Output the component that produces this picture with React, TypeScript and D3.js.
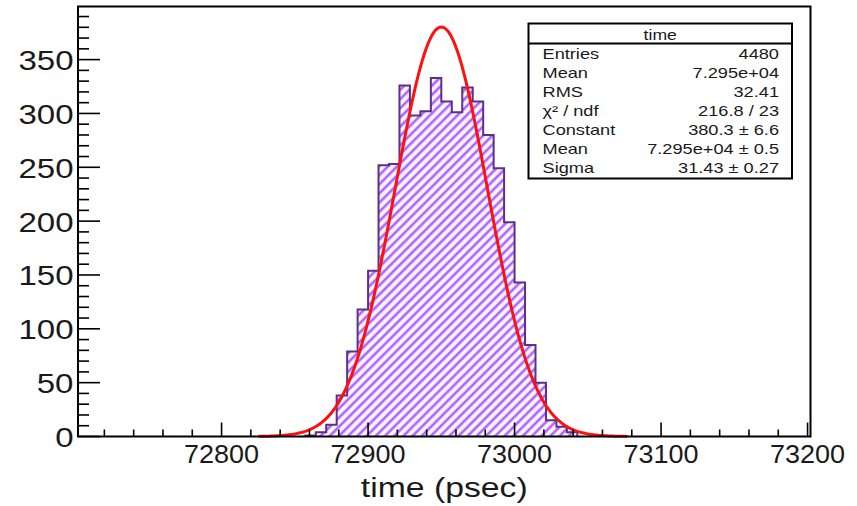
import React from "react";
import * as d3 from "d3";

// ---------- data ----------
const histLow = 72700;
const histHigh = 73200;
const histBins = 70;
const firstFilledBin = 22;
const binCounts = [1, 4, 11, 38, 79, 118, 154, 252, 253, 326, 298, 302, 333, 311, 301, 324, 311, 280, 249, 199, 143, 85, 50, 15, 9, 4];

const fitConstant = 380.3;
const fitMean = 72950;
const fitSigma = 31.43;
const fitRange = [72825, 73077];

const xMajorTicks = [72800, 72900, 73000, 73100, 73200];
const yMajorTicks = [0, 50, 100, 150, 200, 250, 300, 350];

const statsTitle = "time";
const statLabels = ["Entries", "Mean", "RMS", "χ² / ndf", "Constant", "Mean", "Sigma"];
const statValues = ["4480", "7.295e+04", "32.41", "216.8 / 23", "380.3 ± 6.6", "7.295e+04 ± 0.5", "31.43 ± 0.27"];

const xTitle = "time (psec)";

// ---------- layout ----------
const W = 857, H = 506;
const fx0 = 78, fx1 = 810.5, fy0 = 6.5, fy1 = 436.5;
const FONT = "'Liberation Sans', Arial, Helvetica, sans-serif";

function SText({ x, y, sx, size, anchor, children }: any) {
  return (
    <text
      transform={`translate(${x},${y}) scale(${sx},1)`}
      fontSize={size}
      textAnchor={anchor}
      fontFamily={FONT}
      fill="#1a1a1a"
    >
      {children}
    </text>
  );
}

export default function App() {
  const x = d3.scaleLinear().domain([72702, 73202]).range([fx0, fx1]);
  const y = d3.scaleLinear().domain([0, fitConstant * 1.05]).range([fy1, fy0]);
  const bw = (histHigh - histLow) / histBins;

  const bins = binCounts.map((c, i) => {
    const lo = histLow + (firstFilledBin + i) * bw;
    return { x0: lo, x1: lo + bw, c };
  });

  const pts: [number, number][] = [];
  pts.push([x(bins[0].x0), y(0)]);
  bins.forEach((b) => {
    pts.push([x(b.x0), y(b.c)]);
    pts.push([x(b.x1), y(b.c)]);
  });
  pts.push([x(bins[bins.length - 1].x1), y(0)]);
  const stepPath = d3.line()(pts) as string;

  const gx = d3.range(fitRange[0], fitRange[1] + 0.01, 1);
  const gauss = (t: number) => fitConstant * Math.exp(-((t - fitMean) ** 2) / (2 * fitSigma * fitSigma));
  const curve = d3
    .line<number>()
    .x((t) => x(t))
    .y((t) => y(gauss(t)))(gx) as string;

  const xMinor = d3.range(72720, 73200.1, 20).filter((t) => !xMajorTicks.includes(Math.round(t)));
  const yMinor = d3.range(0, 399, 10).filter((t) => t % 50 !== 0);
  const yMajLen = 22, yMinLen = 11, xMajLen = 14, xMinLen = 7;

  const bx0 = 528.5, bx1 = 792, by0 = 23.5, byT = 43.5, by1 = 178.5;

  return (
    <svg width={W} height={H} style={{ position: "absolute", left: 0, top: 0, background: "#fff" }}>
      <defs>
        <pattern id="hatch" patternUnits="userSpaceOnUse" width="6.5" height="6.5" patternTransform="rotate(45)">
          <rect width="6.5" height="6.5" fill="#fbf7ff" />
          <line x1="2" y1="0" x2="2" y2="6.5" stroke="#b062ff" strokeWidth="2.6" />
        </pattern>
      </defs>
      <rect width={W} height={H} fill="#fff" />

      <path d={stepPath + "Z"} fill="url(#hatch)" stroke="none" />
      <path d={stepPath} fill="none" stroke="#5e2f86" strokeWidth={2} />

      <path d={curve} fill="none" stroke="#ff1010" strokeWidth={3} />

      {yMajorTicks.map((t) => (
        <line key={"ym" + t} x1={fx0} x2={fx0 + yMajLen} y1={y(t)} y2={y(t)} stroke="#000" strokeWidth={1.6} />
      ))}
      {yMinor.map((t) => (
        <line key={"yn" + t} x1={fx0} x2={fx0 + yMinLen} y1={y(t)} y2={y(t)} stroke="#000" strokeWidth={1.6} />
      ))}
      {xMajorTicks.map((t) => (
        <line key={"xm" + t} x1={x(t)} x2={x(t)} y1={fy1} y2={fy1 - xMajLen} stroke="#000" strokeWidth={1.6} />
      ))}
      {xMinor.map((t) => (
        <line key={"xn" + t} x1={x(t)} x2={x(t)} y1={fy1} y2={fy1 - xMinLen} stroke="#000" strokeWidth={1.6} />
      ))}

      <rect x={fx0} y={fy0} width={fx1 - fx0} height={fy1 - fy0} fill="none" stroke="#000" strokeWidth={2} />

      {yMajorTicks.map((t) => (
        <SText key={"yl" + t} x={73.5} y={y(t) + 10.5} sx={1.18} size={28} anchor="end">
          {t}
        </SText>
      ))}
      {xMajorTicks.map((t) => (
        <SText key={"xl" + t} x={x(t)} y={463} sx={1.08} size={25} anchor="middle">
          {t}
        </SText>
      ))}
      <SText x={(fx0 + fx1) / 2} y={497} sx={1.25} size={27} anchor="middle">
        {xTitle}
      </SText>

      <rect x={bx0} y={by0} width={bx1 - bx0} height={by1 - by0} fill="#fff" stroke="#000" strokeWidth={2} />
      <line x1={bx0} x2={bx1} y1={byT} y2={byT} stroke="#000" strokeWidth={2} />
      <SText x={(bx0 + bx1) / 2} y={39.5} sx={1.26} size={14} anchor="middle">
        {statsTitle}
      </SText>
      {statLabels.map((l, i) => (
        <SText key={"sl" + i} x={542.5} y={58.5 + i * 19.1} sx={1.3} size={14} anchor="start">
          {l}
        </SText>
      ))}
      {statValues.map((v, i) => (
        <SText key={"sv" + i} x={779} y={58.5 + i * 19.1} sx={1.3} size={14} anchor="end">
          {v}
        </SText>
      ))}
    </svg>
  );
}
